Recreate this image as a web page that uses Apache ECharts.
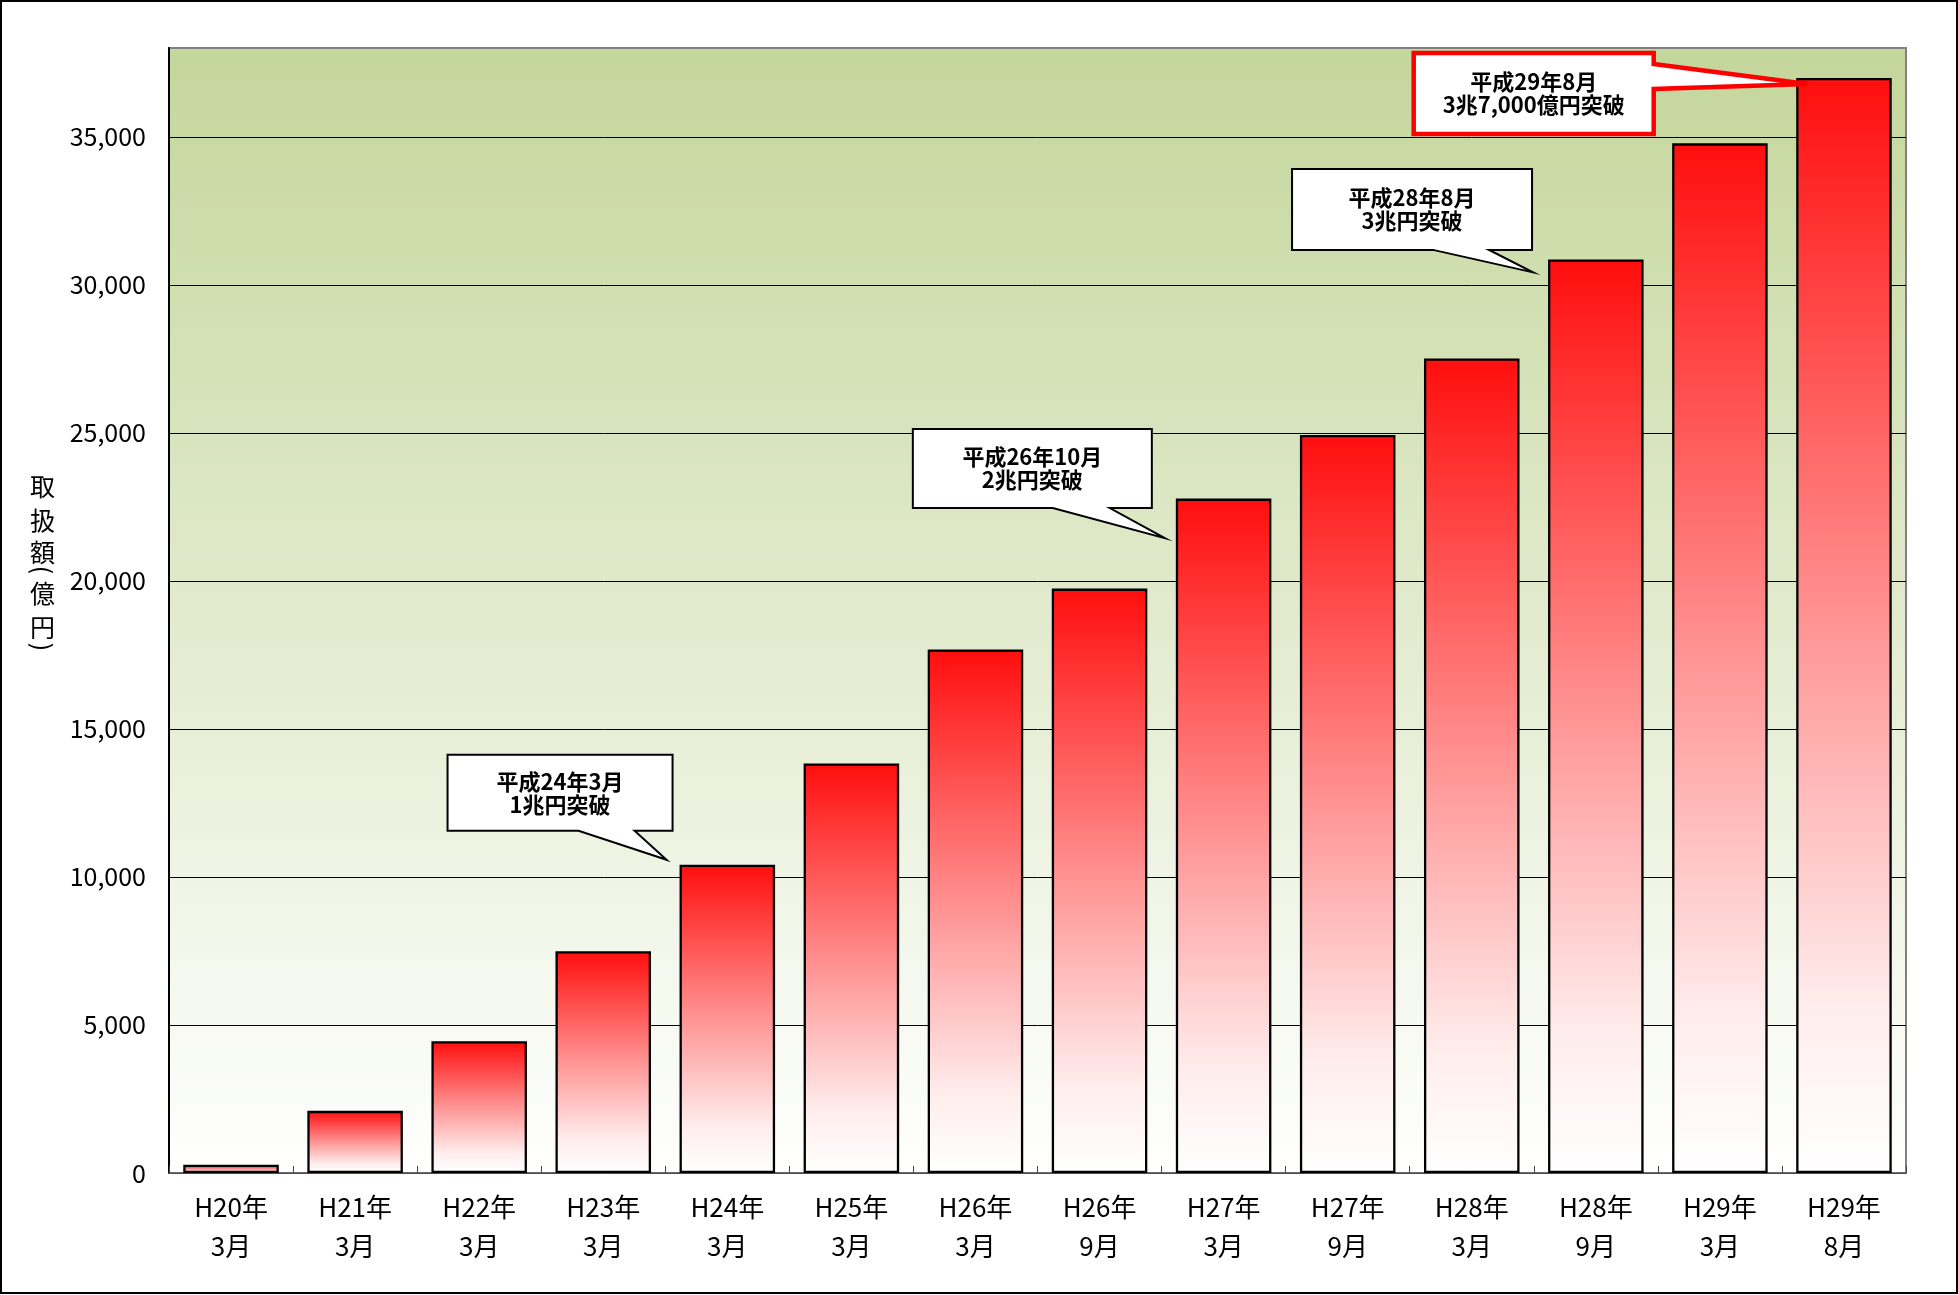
<!DOCTYPE html>
<html><head><meta charset="utf-8">
<script src="https://cdn.jsdelivr.net/npm/echarts@6/dist/echarts.min.js"></script>
<style>html,body{margin:0;padding:0;background:#fff}#c{width:1958px;height:1295px}</style>
</head><body><div id="c"></div>
<script>
// ---- data ----
const categories = ['H20年\n3月', 'H21年\n3月', 'H22年\n3月', 'H23年\n3月', 'H24年\n3月', 'H25年\n3月', 'H26年\n3月',
  'H26年\n9月', 'H27年\n3月', 'H27年\n9月', 'H28年\n3月', 'H28年\n9月', 'H29年\n3月', 'H29年\n8月'];
const amounts = [280, 2100, 4450, 7490, 10410, 13830, 17680, 19740, 22780, 24930, 27510, 30860, 34780, 36990];
const yMin = 0, yMax = 38000, yInterval = 5000;
const yAxisTitle = ['取', '扱', '額', '(', '億', '円', ')'];
const calloutTexts = [
  ['平成24年3月', '1兆円突破'],
  ['平成26年10月', '2兆円突破'],
  ['平成28年8月', '3兆円突破'],
  ['平成29年8月', '3兆7,000億円突破']
];
const calloutBars = [4, 8, 11, 13];

// ---- layout / style (not data) ----
const FONT = '"Noto Sans CJK JP", "Noto Sans", sans-serif';
// geometry relative to the top-left corner of the referenced bar
const calloutLayout = [
  { box: [-232, -110, -7, -34], tail: 'bottom', b: [-101, -45], tip: [-13, -5], stroke: '#000', lw: 2 },
  { box: [-263, -69.5, -24, 9.5], tail: 'bottom', b: [-123, -66], tip: [-11, 39.5], stroke: '#000', lw: 2 },
  { box: [-256, -90.5, -16, -9.5], tail: 'bottom', b: [-115, -59], tip: [-15, 13], stroke: '#000', lw: 2 },
  { box: [-382.5, -25, -142.5, 56], tail: 'right', b: [-14, 11], tip: [11.5, 6], stroke: '#FF0000', lw: 4.5 }
];
const titleLayout = { x: 42.5, ys: [486, 520, 552, 570, 593, 627, 647] };
const BAR_FRAC = 0.77;

const chart = echarts.init(document.getElementById('c'), null, { renderer: 'canvas' });

const option = {
  animation: false,
  backgroundColor: '#ffffff',
  grid: {
    left: 169, right: 52, top: 48, bottom: 122,
    show: true,
    borderColor: '#808080', borderWidth: 2,
    backgroundColor: new echarts.graphic.LinearGradient(0, 0, 0, 1, [
      { offset: 0, color: '#C4D69B' },
      { offset: 1, color: '#FFFFFF' }
    ])
  },
  xAxis: {
    type: 'category',
    data: categories,
    boundaryGap: true,
    axisLine: { show: true, lineStyle: { color: '#666', width: 1.5 } },
    axisTick: { show: true, inside: true, length: 7, lineStyle: { color: '#444', width: 1 } },
    axisLabel: { color: '#000', fontFamily: FONT, fontSize: 26, lineHeight: 39, margin: 15, interval: 0 },
    splitLine: { show: false }
  },
  yAxis: {
    type: 'value',
    min: yMin, max: yMax, interval: yInterval,
    axisLine: { show: true, lineStyle: { color: '#000', width: 2 } },
    axisTick: { show: false },
    axisLabel: {
      color: '#000', fontFamily: FONT, fontSize: 25, margin: 23, showMaxLabel: false,
      formatter: v => (v === yMax ? '' : v.toLocaleString('en-US'))
    },
    splitLine: { show: true, showMaxLine: false, lineStyle: { color: '#000', width: 1 } }
  },
  series: [{
    type: 'bar',
    data: amounts,
    barWidth: (BAR_FRAC * 100) + '%',
    itemStyle: {
      borderColor: '#000', borderWidth: 2.3,
      color: new echarts.graphic.LinearGradient(0, 0, 0, 1, [
        { offset: 0, color: '#FF0E0E' },
        { offset: 0.5, color: '#FF9494' },
        { offset: 0.85, color: '#FFEDED' },
        { offset: 1, color: '#FFFFFF' }
      ])
    },
    z: 3
  }]
};
chart.setOption(option);

// ---- annotations positioned through the axes ----
const p0 = chart.convertToPixel({ gridIndex: 0 }, [0, 0]);
const p1 = chart.convertToPixel({ gridIndex: 0 }, [1, 0]);
const catW = p1[0] - p0[0];
const graphics = [];

calloutBars.forEach((bi, k) => {
  const top = chart.convertToPixel({ gridIndex: 0 }, [bi, amounts[bi]]);
  const ax = top[0] - catW * BAR_FRAC / 2, ay = top[1];
  const L = calloutLayout[k];
  const [x1, y1, x2, y2] = L.box;
  let pts;
  if (L.tail === 'bottom') {
    pts = [[x1, y1], [x2, y1], [x2, y2], [L.b[1], y2], L.tip, [L.b[0], y2], [x1, y2]];
  } else {
    pts = [[x1, y1], [x2, y1], [x2, L.b[0]], L.tip, [x2, L.b[1]], [x2, y2], [x1, y2]];
  }
  pts = pts.map(p => [ax + p[0], ay + p[1]]);
  graphics.push({
    type: 'polygon', z: 100,
    shape: { points: pts },
    style: { fill: '#fff', stroke: L.stroke, lineWidth: L.lw, lineJoin: 'miter' }
  });
  graphics.push({
    type: 'text', z: 101,
    x: ax + (x1 + x2) / 2, y: ay + (y1 + y2) / 2,
    style: {
      text: calloutTexts[k].join('\n'),
      fill: '#000', font: 'bold 22px ' + FONT, lineHeight: 23,
      align: 'center', verticalAlign: 'middle'
    }
  });
});

yAxisTitle.forEach((ch, i) => {
  const isParen = ch === '(' || ch === ')';
  graphics.push({
    type: 'text', z: 50,
    x: titleLayout.x, y: titleLayout.ys[i],
    rotation: isParen ? -Math.PI / 2 : 0,
    style: {
      text: ch, fill: '#000', font: '25px ' + FONT,
      align: 'center', verticalAlign: 'middle'
    }
  });
});

// outer frame
graphics.push({
  type: 'rect', z: 200, silent: true,
  shape: { x: 1, y: 1, width: 1956, height: 1292 },
  style: { fill: 'none', stroke: '#000', lineWidth: 2 }
});

chart.setOption({ graphic: graphics });
</script>
</body></html>
